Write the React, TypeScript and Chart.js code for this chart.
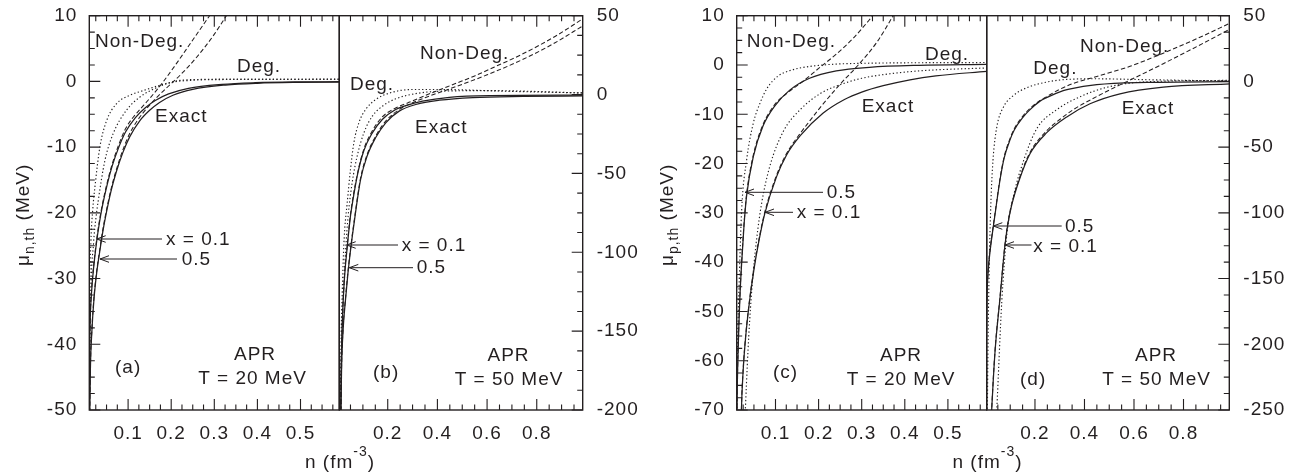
import React, { useEffect, useRef } from 'react';
import { Chart, registerables } from 'chart.js';

Chart.register(...registerables);

type Pt = [number, number];

const FONT = '"Liberation Sans", Arial, Helvetica, sans-serif';
const INK = '#231f20';
const W = 1305;
const H = 475;

// ---- tick labels ----
const xTicksLow = [0.1, 0.2, 0.3, 0.4, 0.5];
const xTicksHigh = [0.2, 0.4, 0.6, 0.8];
const yTicksA = [10, 0, -10, -20, -30, -40, -50];
const yTicksB = [50, 0, -50, -100, -150, -200];
const yTicksC = [10, 0, -10, -20, -30, -40, -50, -60, -70];
const yTicksD = [50, 0, -50, -100, -150, -200, -250];

// ---- (a) neutrons, T = 20 MeV : [n (fm^-3), mu_th (MeV)] ----
const aExact01: Pt[] = [[0.0099,-54],[0.0106,-42],[0.012,-36.5],[0.015,-32.3],[0.02,-28.4],[0.027,-24.4],[0.033,-21.7],[0.04,-19.1],[0.0515,-15.7],[0.063,-12.9],[0.0785,-10.0],[0.094,-7.7],[0.117,-5.5],[0.14,-4.0],[0.163,-2.9],[0.194,-1.9],[0.24,-1.05],[0.318,-0.45],[0.395,-0.2],[0.49,-0.08],[0.59,-0.05]];
const aExact05: Pt[] = [[0.0104,-55],[0.0125,-44],[0.016,-38],[0.021,-33],[0.027,-29.2],[0.034,-26.0],[0.041,-23.0],[0.048,-20.5],[0.06,-16.8],[0.072,-13.9],[0.088,-10.8],[0.104,-8.4],[0.127,-6.0],[0.15,-4.4],[0.173,-3.2],[0.204,-2.1],[0.25,-1.2],[0.326,-0.55],[0.4,-0.28],[0.49,-0.15],[0.59,-0.1]];
const aDeg01: Pt[] = [[0.0098,-50],[0.011,-33],[0.0137,-24.5],[0.018,-19.5],[0.023,-16.1],[0.0345,-10],[0.05,-6],[0.073,-3.4],[0.104,-2.1],[0.135,-1.4],[0.173,-0.6],[0.22,0.15],[0.266,0.3],[0.35,0.35],[0.59,0.35]];
const aDeg05: Pt[] = [[0.0101,-50],[0.013,-34],[0.02,-24.5],[0.025,-21],[0.0306,-18.2],[0.046,-12.1],[0.065,-8.0],[0.096,-4.4],[0.127,-2.4],[0.166,-0.96],[0.204,-0.1],[0.243,0.15],[0.3,0.28],[0.59,0.3]];
const aNonDeg01: Pt[] = [[0.0099,-53.7],[0.0106,-41.7],[0.012,-36.2],[0.015,-32],[0.02,-28.1],[0.027,-24.1],[0.033,-21.4],[0.04,-18.8],[0.0515,-15.4],[0.063,-12.6],[0.0785,-9.6],[0.094,-7.2],[0.11,-5.6],[0.127,-4.3],[0.15,-2.6],[0.181,-0.1],[0.212,2.7],[0.25,6.3],[0.289,10],[0.31,12]];
const aNonDeg05: Pt[] = [[0.0104,-54.7],[0.0125,-43.7],[0.016,-37.7],[0.021,-32.7],[0.027,-28.9],[0.034,-25.7],[0.041,-22.7],[0.048,-20.2],[0.06,-16.5],[0.072,-13.6],[0.088,-10.4],[0.104,-7.9],[0.12,-6.1],[0.15,-3.6],[0.189,-1.0],[0.22,0.9],[0.258,3.6],[0.297,6.9],[0.328,10],[0.345,11.8]];

// ---- (b) neutrons, T = 50 MeV ----
const bExact01: Pt[] = [[0.0095,-215],[0.013,-170],[0.018,-141],[0.025,-118],[0.038,-95],[0.05,-77],[0.0567,-70],[0.077,-51.7],[0.104,-35.5],[0.138,-24.3],[0.178,-15.8],[0.232,-9.5],[0.273,-7.0],[0.34,-4.2],[0.448,-1.8],[0.61,-0.7],[0.99,-0.4]];
const bExact05: Pt[] = [[0.0105,-215],[0.014,-175],[0.02,-150],[0.03,-130],[0.04,-113],[0.05,-99],[0.0676,-78],[0.0906,-54],[0.117,-39],[0.151,-27.4],[0.192,-17.9],[0.246,-10.5],[0.313,-6.3],[0.408,-3.6],[0.543,-1.9],[0.745,-1.2],[0.99,-0.9]];
const bDeg01: Pt[] = [[0.0095,-210],[0.012,-160],[0.017,-125],[0.022,-100],[0.027,-85],[0.036,-70],[0.05,-47.5],[0.0636,-30.6],[0.0838,-17.9],[0.111,-9.5],[0.151,-3.2],[0.219,1.5],[0.3,3.2],[0.41,3.2],[0.677,2.1],[0.99,1.0]];
const bDeg05: Pt[] = [[0.01,-210],[0.014,-160],[0.022,-125],[0.03,-100],[0.0406,-77],[0.0568,-55.9],[0.077,-39],[0.104,-24.3],[0.138,-13.7],[0.178,-7.4],[0.232,-2.7],[0.313,0.6],[0.408,2.1],[0.61,2.5],[0.99,1.0]];
const bNonDeg01: Pt[] = [[0.0095,-214],[0.013,-169],[0.018,-140],[0.025,-117],[0.038,-94],[0.05,-76],[0.077,-51],[0.104,-34.5],[0.138,-23],[0.178,-14.2],[0.232,-8.5],[0.28,-5.3],[0.33,-2.0],[0.4,2.5],[0.47,6.8],[0.55,11.8],[0.63,17.5],[0.74,25.5],[0.87,36.5],[0.99,48.5]];
const bNonDeg05: Pt[] = [[0.0105,-214],[0.014,-174],[0.02,-149],[0.03,-129],[0.04,-112],[0.05,-98],[0.0676,-77],[0.0906,-53],[0.117,-38],[0.151,-26.5],[0.192,-16.8],[0.246,-9.5],[0.3,-5.2],[0.35,-2.0],[0.42,2.0],[0.5,6.5],[0.6,12.5],[0.74,22],[0.87,32.5],[0.99,44]];

// ---- (c) protons, T = 20 MeV ----
const cExact05: Pt[] = [[0.0095,-80],[0.0105,-70],[0.0138,-56.5],[0.0175,-47],[0.0215,-40.2],[0.027,-32.5],[0.033,-26.5],[0.0485,-18.6],[0.071,-12.4],[0.0985,-8.3],[0.133,-5.1],[0.179,-2.7],[0.241,-1.2],[0.318,-0.47],[0.433,-0.07],[0.59,0.1]];
const cExact01: Pt[] = [[0.019,-80],[0.021,-70],[0.025,-62],[0.031,-55],[0.039,-48.5],[0.05,-41.5],[0.062,-35.5],[0.0753,-30.1],[0.1023,-22.7],[0.1254,-18.3],[0.158,-14.3],[0.21,-9.8],[0.26,-7.0],[0.3,-5.5],[0.35,-4.2],[0.412,-3.0],[0.472,-2.2],[0.59,-1.3]];
const cDeg05: Pt[] = [[0.0098,-85],[0.0105,-70],[0.0122,-56.5],[0.0162,-42.9],[0.0215,-29.4],[0.033,-19.3],[0.0485,-11.8],[0.0638,-7.8],[0.08,-4.8],[0.105,-2.3],[0.135,-1.1],[0.179,-0.3],[0.279,0.3],[0.59,0.5]];
const cDeg01: Pt[] = [[0.026,-85],[0.028,-75],[0.031,-68],[0.038,-55],[0.046,-44.5],[0.056,-35.5],[0.068,-28],[0.087,-20.5],[0.118,-13.5],[0.158,-9.0],[0.204,-5.8],[0.26,-3.7],[0.3,-2.7],[0.373,-1.7],[0.45,-1.1],[0.59,-0.6]];
const cNonDeg05: Pt[] = [[0.0095,-79.7],[0.0105,-69.7],[0.0138,-56.2],[0.0175,-46.7],[0.0215,-39.9],[0.027,-32.2],[0.033,-26.2],[0.0485,-18.3],[0.071,-12.1],[0.0985,-8.0],[0.12,-6.2],[0.142,-4.7],[0.164,-3.3],[0.2,-0.7],[0.241,2.2],[0.28,5.4],[0.326,10],[0.345,12]];
const cNonDeg01: Pt[] = [[0.019,-79.7],[0.021,-69.7],[0.025,-61.7],[0.031,-54.7],[0.039,-48.2],[0.05,-41.2],[0.062,-35.2],[0.0753,-29.8],[0.1023,-22.4],[0.1254,-18.0],[0.158,-13.8],[0.18,-11.3],[0.204,-8.6],[0.25,-3.9],[0.292,0],[0.335,4.6],[0.373,10],[0.385,11.8]];

// ---- (d) protons, T = 50 MeV ----
const dExact05: Pt[] = [[0.003,-200],[0.006,-165],[0.012,-142],[0.02,-127],[0.0317,-110.5],[0.044,-94],[0.0587,-75],[0.0759,-58],[0.0991,-44.5],[0.1163,-37],[0.1527,-27],[0.1769,-22],[0.2203,-15],[0.2446,-12.5],[0.3143,-7],[0.3385,-5.8],[0.4496,-2.5],[0.6516,-0.8],[0.99,-0.2]];
const dExact01: Pt[] = [[0.0214,-265],[0.0254,-249],[0.0385,-206],[0.0587,-165],[0.0789,-124.5],[0.091,-108],[0.1062,-94],[0.1365,-75],[0.1799,-55],[0.2476,-39],[0.3284,-27],[0.4223,-17],[0.5435,-9.4],[0.7183,-4.3],[0.99,-1.8]];
const dDeg05: Pt[] = [[0.0072,-260],[0.0103,-200],[0.0153,-140],[0.0214,-95],[0.0304,-60],[0.0456,-35],[0.0724,-19.6],[0.1128,-10.7],[0.1668,-4.8],[0.2476,-0.5],[0.3284,1.5],[0.4496,2.0],[0.6516,1.3],[0.99,0.3]];
const dDeg01: Pt[] = [[0.04,-270],[0.0456,-250],[0.0658,-168],[0.086,-117],[0.1163,-85],[0.1527,-61],[0.2072,-36],[0.288,-21.5],[0.39,-11],[0.49,-4.5],[0.584,-1.3],[0.7425,0.3],[0.99,0.8]];
const dNonDeg05: Pt[] = [[0.003,-199],[0.006,-164],[0.012,-141],[0.02,-126],[0.0317,-109.5],[0.044,-93],[0.0587,-74],[0.0759,-57],[0.0991,-43.5],[0.1163,-36],[0.1527,-26],[0.1769,-21],[0.2203,-14.5],[0.2476,-11.5],[0.3,-6],[0.3547,-1.5],[0.4496,3.8],[0.584,11.5],[0.7183,21.5],[0.8536,32.5],[0.99,44.5]];
const dNonDeg01: Pt[] = [[0.0214,-264],[0.0254,-248],[0.0385,-205],[0.0587,-164],[0.0789,-123.5],[0.091,-107],[0.1062,-93],[0.1365,-74],[0.1799,-54],[0.2476,-37.5],[0.3,-29],[0.3547,-21.5],[0.4496,-11.5],[0.5172,-5],[0.584,1],[0.7183,13.5],[0.8536,26.5],[0.99,40]];

type Kind = 'exact' | 'deg' | 'nondeg';
const STYLE: Record<Kind, { w: number; dash: number[] }> = {
  exact: { w: 1.25, dash: [] },
  deg: { w: 1.15, dash: [1.3, 2.3] },
  nondeg: { w: 1.05, dash: [4.5, 2.5] },
};

interface Label { text: string; x: number; y: number; align?: CanvasTextAlign; base?: CanvasTextBaseline }
interface Arrow { tip: number; y: number; tail: number }
interface Panel {
  area: { l: number; t: number; r: number; b: number };
  xMin: number; xMax: number; yMin: number; yMax: number;
  yPos: 'left' | 'right';
  xTicks: number[]; yTicks: number[];
  xMinor: number; xMajor: number; yMinor: number; yMajor: number;
  series: { data: Pt[]; kind: Kind }[];
  labels: Label[];
  arrows: Arrow[];
  yTitle?: { sub: string; x: number; y: number };
  xTitle?: { x: number; y: number };
}

const PANELS: Panel[] = [
  {
    area: { l: 89.3, t: 15.7, r: 339.3, b: 410 },
    xMin: 0.01, xMax: 0.59, yMin: -50, yMax: 10, yPos: 'left',
    xTicks: xTicksLow, yTicks: yTicksA, xMinor: 0.025, xMajor: 0.1, yMinor: 2.5, yMajor: 10,
    series: [
      { data: aNonDeg01, kind: 'nondeg' }, { data: aNonDeg05, kind: 'nondeg' },
      { data: aDeg01, kind: 'deg' }, { data: aDeg05, kind: 'deg' },
      { data: aExact01, kind: 'exact' }, { data: aExact05, kind: 'exact' },
    ],
    labels: [
      { text: 'Non-Deg.', x: 95, y: 47 },
      { text: 'Deg.', x: 237, y: 72 },
      { text: 'Exact', x: 155, y: 122 },
      { text: 'x = 0.1', x: 166, y: 240, base: 'middle' },
      { text: '0.5', x: 181.7, y: 259.5, base: 'middle' },
      { text: '(a)', x: 115, y: 368, base: 'middle' },
      { text: 'APR', x: 255, y: 360, align: 'center' },
      { text: 'T = 20 MeV', x: 252.5, y: 384, align: 'center' },
    ],
    arrows: [{ tip: 96.7, y: 239, tail: 162 }, { tip: 100, y: 259, tail: 177 }],
    yTitle: { sub: 'n,th', x: 29, y: 266 },
    xTitle: { x: 340, y: 468 },
  },
  {
    area: { l: 339.3, t: 15.7, r: 582.7, b: 410 },
    xMin: 0.005, xMax: 0.985, yMin: -200, yMax: 50, yPos: 'right',
    xTicks: xTicksHigh, yTicks: yTicksB, xMinor: 0.05, xMajor: 0.2, yMinor: 12.5, yMajor: 50,
    series: [
      { data: bNonDeg01, kind: 'nondeg' }, { data: bNonDeg05, kind: 'nondeg' },
      { data: bDeg01, kind: 'deg' }, { data: bDeg05, kind: 'deg' },
      { data: bExact01, kind: 'exact' }, { data: bExact05, kind: 'exact' },
    ],
    labels: [
      { text: 'Non-Deg.', x: 420, y: 58.5 },
      { text: 'Deg.', x: 350, y: 90 },
      { text: 'Exact', x: 415, y: 133 },
      { text: 'x = 0.1', x: 401.7, y: 245.7, base: 'middle' },
      { text: '0.5', x: 416.7, y: 268, base: 'middle' },
      { text: '(b)', x: 373, y: 373, base: 'middle' },
      { text: 'APR', x: 508.5, y: 361, align: 'center' },
      { text: 'T = 50 MeV', x: 509, y: 384.5, align: 'center' },
    ],
    arrows: [{ tip: 346.7, y: 245, tail: 398 }, { tip: 349.3, y: 267.7, tail: 413 }],
  },
  {
    area: { l: 736.7, t: 15.7, r: 986.7, b: 410 },
    xMin: 0.01, xMax: 0.59, yMin: -70, yMax: 10, yPos: 'left',
    xTicks: xTicksLow, yTicks: yTicksC, xMinor: 0.025, xMajor: 0.1, yMinor: 2.5, yMajor: 10,
    series: [
      { data: cNonDeg05, kind: 'nondeg' }, { data: cNonDeg01, kind: 'nondeg' },
      { data: cDeg05, kind: 'deg' }, { data: cDeg01, kind: 'deg' },
      { data: cExact05, kind: 'exact' }, { data: cExact01, kind: 'exact' },
    ],
    labels: [
      { text: 'Non-Deg.', x: 746.7, y: 47 },
      { text: 'Deg.', x: 925, y: 60 },
      { text: 'Exact', x: 861.7, y: 112.3 },
      { text: '0.5', x: 826.7, y: 193, base: 'middle' },
      { text: 'x = 0.1', x: 796.7, y: 212.5, base: 'middle' },
      { text: '(c)', x: 773, y: 373, base: 'middle' },
      { text: 'APR', x: 901, y: 361, align: 'center' },
      { text: 'T = 20 MeV', x: 901, y: 385, align: 'center' },
    ],
    arrows: [{ tip: 745, y: 192.3, tail: 823 }, { tip: 765, y: 212.3, tail: 793 }],
    yTitle: { sub: 'p,th', x: 673, y: 266 },
    xTitle: { x: 987.5, y: 468 },
  },
  {
    area: { l: 986.7, t: 15.7, r: 1229.3, b: 410 },
    xMin: 0.005, xMax: 0.985, yMin: -250, yMax: 50, yPos: 'right',
    xTicks: xTicksHigh, yTicks: yTicksD, xMinor: 0.05, xMajor: 0.2, yMinor: 12.5, yMajor: 50,
    series: [
      { data: dNonDeg05, kind: 'nondeg' }, { data: dNonDeg01, kind: 'nondeg' },
      { data: dDeg05, kind: 'deg' }, { data: dDeg01, kind: 'deg' },
      { data: dExact05, kind: 'exact' }, { data: dExact01, kind: 'exact' },
    ],
    labels: [
      { text: 'Non-Deg.', x: 1080, y: 51.7 },
      { text: 'Deg.', x: 1033.3, y: 74 },
      { text: 'Exact', x: 1121.7, y: 114.3 },
      { text: '0.5', x: 1065, y: 226.5, base: 'middle' },
      { text: 'x = 0.1', x: 1033.3, y: 247, base: 'middle' },
      { text: '(d)', x: 1020, y: 380, base: 'middle' },
      { text: 'APR', x: 1156, y: 361, align: 'center' },
      { text: 'T = 50 MeV', x: 1156.5, y: 384.5, align: 'center' },
    ],
    arrows: [{ tip: 993.3, y: 226, tail: 1061.7 }, { tip: 1005, y: 245, tail: 1031.5 }],
  },
];

const AX_W = 80;
const AX_H = 50;

function decor(p: Panel) {
  return {
    id: 'decor',
    beforeDraw(chart: any) {
      chart.ctx.letterSpacing = '1px';
    },
    afterDraw(chart: any) {
      const ctx: CanvasRenderingContext2D = chart.ctx;
      const { left, top, right, bottom } = chart.chartArea;
      const xs = chart.scales.x;
      const ys = chart.scales.y;
      ctx.save();
      (ctx as any).letterSpacing = '1px';
      ctx.strokeStyle = INK;
      ctx.fillStyle = INK;
      ctx.setLineDash([]);
      ctx.lineWidth = 1.4;
      ctx.strokeRect(left, top, right - left, bottom - top);

      // inward ticks
      ctx.lineWidth = 1.1;
      ctx.beginPath();
      for (let i = Math.ceil(p.xMin / p.xMinor - 1e-9); i * p.xMinor < p.xMax - 1e-9; i++) {
        const v = i * p.xMinor;
        const major = Math.abs(v / p.xMajor - Math.round(v / p.xMajor)) < 1e-6;
        const len = major ? 11 : 5.5;
        const px = xs.getPixelForValue(v);
        ctx.moveTo(px, bottom);
        ctx.lineTo(px, bottom - len);
        ctx.moveTo(px, top);
        ctx.lineTo(px, top + len);
      }
      for (let i = Math.ceil(p.yMin / p.yMinor - 1e-9); i * p.yMinor <= p.yMax + 1e-9; i++) {
        const v = i * p.yMinor;
        const major = Math.abs(v / p.yMajor - Math.round(v / p.yMajor)) < 1e-6;
        const len = major ? 11 : 5.5;
        const py = ys.getPixelForValue(v);
        if (p.yPos === 'left') {
          ctx.moveTo(left, py);
          ctx.lineTo(left + len, py);
        } else {
          ctx.moveTo(right, py);
          ctx.lineTo(right - len, py);
        }
      }
      ctx.stroke();

      // arrows
      ctx.lineWidth = 1;
      ctx.beginPath();
      for (const a of p.arrows) {
        ctx.moveTo(a.tail, a.y);
        ctx.lineTo(a.tip, a.y);
        ctx.moveTo(a.tip + 9, a.y - 3.3);
        ctx.lineTo(a.tip, a.y);
        ctx.lineTo(a.tip + 9, a.y + 3.3);
      }
      ctx.stroke();

      // annotation texts
      ctx.font = `19px ${FONT}`;
      for (const l of p.labels) {
        ctx.textAlign = l.align ?? 'left';
        ctx.textBaseline = l.base ?? 'alphabetic';
        ctx.fillText(l.text, l.x, l.y);
      }

      // y title
      if (p.yTitle) {
        const t = p.yTitle;
        ctx.save();
        ctx.translate(t.x, t.y);
        ctx.rotate(-Math.PI / 2);
        ctx.textAlign = 'left';
        ctx.textBaseline = 'alphabetic';
        ctx.font = `19px ${FONT}`;
        ctx.fillText('μ', 0, 0);
        let w = ctx.measureText('μ').width;
        ctx.font = `14px ${FONT}`;
        ctx.fillText(t.sub, w, 5);
        w += ctx.measureText(t.sub).width;
        ctx.font = `19px ${FONT}`;
        ctx.fillText(' (MeV)', w, 0);
        ctx.restore();
      }

      // x title
      if (p.xTitle) {
        const t = p.xTitle;
        ctx.textAlign = 'left';
        ctx.textBaseline = 'alphabetic';
        ctx.font = `19px ${FONT}`;
        const w1 = ctx.measureText('n (fm').width;
        const w3 = ctx.measureText(')').width;
        ctx.font = `14px ${FONT}`;
        const w2 = ctx.measureText('-3').width;
        let x = t.x - (w1 + w2 + w3) / 2;
        ctx.font = `19px ${FONT}`;
        ctx.fillText('n (fm', x, t.y);
        x += w1;
        ctx.font = `14px ${FONT}`;
        ctx.fillText('-3', x, t.y - 12);
        x += w2;
        ctx.font = `19px ${FONT}`;
        ctx.fillText(')', x, t.y);
      }
      ctx.restore();
    },
  };
}

function noPad(s: any) {
  s.paddingTop = 0;
  s.paddingBottom = 0;
  s.paddingLeft = 0;
  s.paddingRight = 0;
}

function makeChart(canvas: HTMLCanvasElement, p: Panel) {
  const padding = p.yPos === 'left'
    ? { left: p.area.l - AX_W, right: W - p.area.r, top: p.area.t, bottom: H - p.area.b - AX_H }
    : { left: p.area.l, right: W - p.area.r - AX_W, top: p.area.t, bottom: H - p.area.b - AX_H };
  return new Chart(canvas, {
    type: 'line',
    data: {
      datasets: p.series.map((s) => ({
        data: s.data.map(([x, y]) => ({ x, y })),
        borderColor: INK,
        borderWidth: STYLE[s.kind].w,
        borderDash: STYLE[s.kind].dash,
        pointRadius: 0,
        fill: false,
        cubicInterpolationMode: 'monotone' as const,
      })),
    },
    options: {
      responsive: false,
      animation: false,
      devicePixelRatio: 1,
      events: [],
      layout: { padding },
      plugins: { legend: { display: false }, tooltip: { enabled: false } },
      scales: {
        x: {
          type: 'linear',
          position: 'bottom',
          min: p.xMin,
          max: p.xMax,
          grid: { display: false, drawTicks: false },
          border: { display: false },
          ticks: {
            font: { family: FONT, size: 19 },
            color: INK,
            padding: 12.6,
            maxRotation: 0,
            autoSkip: false,
            callback: (v: any) => String(v),
          },
          afterBuildTicks: (s: any) => { s.ticks = p.xTicks.map((value) => ({ value })); },
          afterFit: (s: any) => { s.height = AX_H; noPad(s); },
        },
        y: {
          type: 'linear',
          position: p.yPos,
          min: p.yMin,
          max: p.yMax,
          grid: { display: false, drawTicks: false },
          border: { display: false },
          ticks: {
            font: { family: FONT, size: 19 },
            color: INK,
            padding: p.yPos === 'left' ? 12 : 14,
            crossAlign: 'near',
            autoSkip: false,
            callback: (v: any) => String(v),
          },
          afterBuildTicks: (s: any) => { s.ticks = p.yTicks.map((value) => ({ value })); },
          afterFit: (s: any) => { s.width = AX_W; noPad(s); },
        },
      },
    } as any,
    plugins: [decor(p)],
  });
}

export default function App() {
  const refs = useRef<(HTMLCanvasElement | null)[]>([]);
  useEffect(() => {
    const charts = PANELS.map((p, i) => makeChart(refs.current[i]!, p));
    return () => charts.forEach((c) => c.destroy());
  }, []);
  return (
    <div style={{ position: 'absolute', left: 0, top: 0, width: W, height: H, background: '#fff' }}>
      {PANELS.map((_, i) => (
        <canvas
          key={i}
          ref={(el) => { refs.current[i] = el; }}
          width={W}
          height={H}
          style={{ position: 'absolute', left: 0, top: 0 }}
        />
      ))}
    </div>
  );
}
